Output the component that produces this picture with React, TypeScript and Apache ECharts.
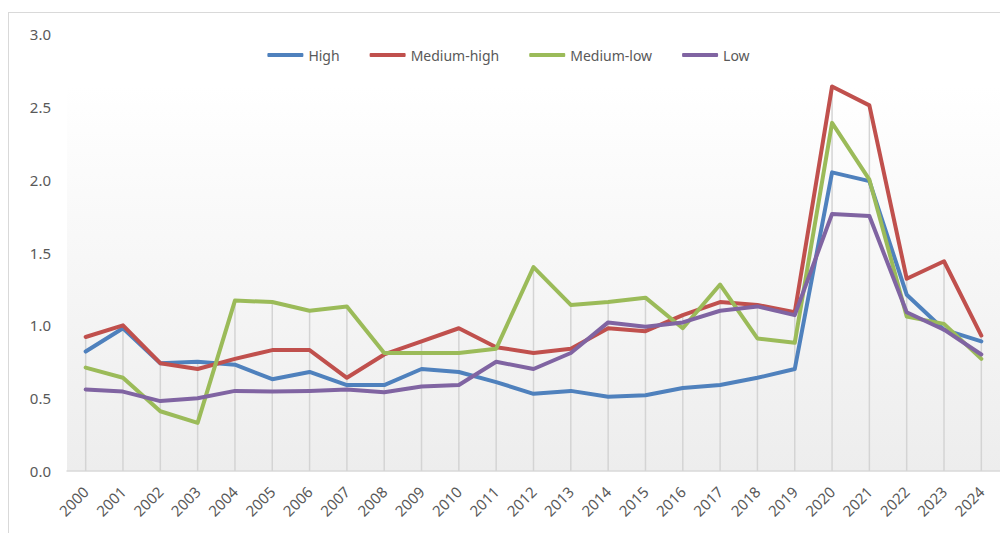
import React, { useEffect, useRef } from "react";
import * as echarts from "echarts";

const years = [
  "2000", "2001", "2002", "2003", "2004", "2005", "2006", "2007", "2008", "2009",
  "2010", "2011", "2012", "2013", "2014", "2015", "2016", "2017", "2018", "2019",
  "2020", "2021", "2022", "2023", "2024",
];

const high = [0.82, 0.98, 0.74, 0.75, 0.73, 0.63, 0.68, 0.59, 0.59, 0.70, 0.68, 0.61, 0.53, 0.55, 0.51, 0.52, 0.57, 0.59, 0.64, 0.70, 2.05, 1.99, 1.21, 0.97, 0.89];
const mediumHigh = [0.92, 1.00, 0.74, 0.70, 0.77, 0.83, 0.83, 0.64, 0.80, 0.89, 0.98, 0.85, 0.81, 0.84, 0.98, 0.96, 1.07, 1.16, 1.14, 1.09, 2.64, 2.51, 1.32, 1.44, 0.93];
const mediumLow = [0.71, 0.64, 0.41, 0.33, 1.17, 1.16, 1.10, 1.13, 0.81, 0.81, 0.81, 0.84, 1.40, 1.14, 1.16, 1.19, 0.98, 1.28, 0.91, 0.88, 2.39, 2.00, 1.06, 1.01, 0.77];
const low = [0.56, 0.545, 0.48, 0.50, 0.55, 0.545, 0.55, 0.56, 0.54, 0.58, 0.59, 0.75, 0.70, 0.81, 1.02, 0.99, 1.02, 1.10, 1.13, 1.07, 1.765, 1.75, 1.09, 0.97, 0.80];

const seriesNames = ["High", "Medium-high", "Medium-low", "Low"];
const seriesColors = ["#4F81BD", "#C0504D", "#9BBB59", "#8064A2"];
const yTicks = { min: 0, max: 3, interval: 0.5 };

export default function App() {
  const ref = useRef<HTMLDivElement>(null);

  useEffect(() => {
    if (!ref.current) return;
    const chart = echarts.init(ref.current, null, { renderer: "svg" });
    const all = [high, mediumHigh, mediumLow, low];
    const dropMax = years.map((_, i) => Math.max(...all.map((s) => s[i])));
    const font = "Noto Sans";

    chart.setOption({
      animation: false,
      grid: {
        left: 58,
        right: 8,
        top: 21,
        bottom: 63,
        show: true,
        borderWidth: 0,
        backgroundColor: new echarts.graphic.LinearGradient(0, 0, 0, 1, [
          { offset: 0, color: "#ffffff" },
          { offset: 0.12, color: "#ffffff" },
          { offset: 1, color: "#ededed" },
        ]),
      },
      legend: {
        top: 30,
        left: "center",
        data: seriesNames,
        itemWidth: 36,
        itemHeight: 4,
        itemGap: 30,
        icon: "roundRect",
        textStyle: { fontFamily: font, fontSize: 14, color: "#595959" },
      },
      xAxis: {
        type: "category",
        data: years,
        boundaryGap: true,
        axisLine: { show: true, lineStyle: { color: "#d9d9d9", width: 1.5 } },
        axisTick: { show: false },
        axisLabel: {
          rotate: 45,
          interval: 0,
          margin: 18,
          fontFamily: font,
          fontSize: 15,
          color: "#595959",
        },
        splitLine: { show: false },
      },
      yAxis: {
        type: "value",
        min: yTicks.min,
        max: yTicks.max,
        interval: yTicks.interval,
        axisLine: { show: false },
        axisTick: { show: false },
        splitLine: { show: false },
        axisLabel: {
          formatter: (v: number) => v.toFixed(1),
          margin: 16,
          fontFamily: font,
          fontSize: 15,
          color: "#595959",
        },
      },
      series: [
        {
          name: "drop",
          type: "bar",
          data: dropMax,
          barWidth: 1.5,
          itemStyle: { color: "#d4d4d4" },
          z: 1,
          silent: true,
        },
        ...[high, mediumHigh, mediumLow, low].map((d, i) => ({
          name: seriesNames[i],
          type: "line",
          data: d,
          symbol: "none",
          smooth: false,
          color: seriesColors[i],
          lineStyle: { width: 4, color: seriesColors[i], cap: "round", join: "round" },
          z: 3,
        })),
      ],
    });
    return () => chart.dispose();
  }, []);

  return (
    <div
      style={{
        marginTop: 4,
        borderTop: "1px solid #d9d9d9",
        borderLeft: "1px solid #d9d9d9",
        width: 999,
        height: 521,
      }}
    >
      <div ref={ref} style={{ width: 999, height: 521 }} />
    </div>
  );
}
